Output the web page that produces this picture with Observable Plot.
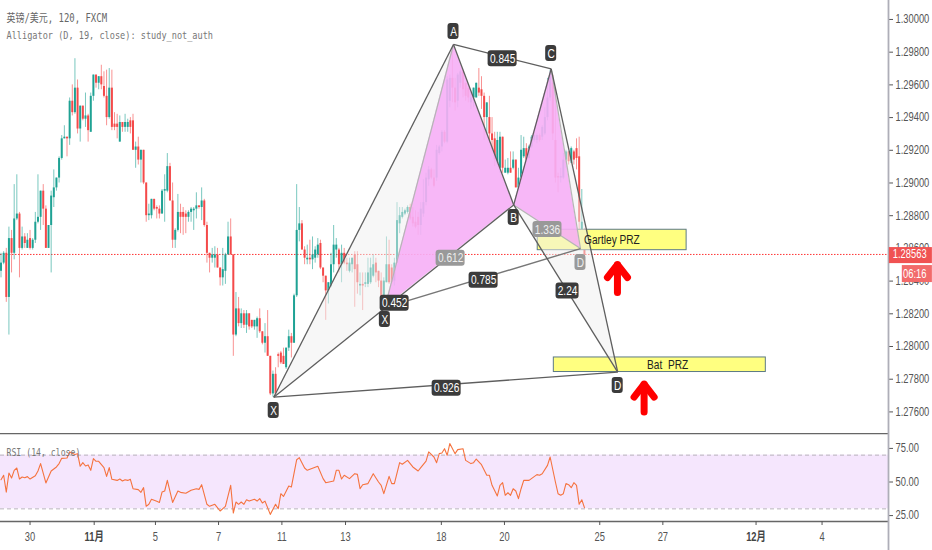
<!DOCTYPE html>
<html>
<head>
<meta charset="utf-8">
<script src="https://cdn.jsdelivr.net/npm/d3@7"></script>
<script src="https://cdn.jsdelivr.net/npm/@observablehq/plot@0.6"></script>
<style>
html,body{margin:0;padding:0;background:#fff;overflow:hidden}
svg{display:block;background:#fff}
</style>
</head>
<body>
<div id="chart"></div>
<script>
// 120-minute candles, quoted in pips: [open, close, high, low]
const candles = [
[12846,12851,12857,12842],[12851,12857,12858,12850],[12857,12830,12860,12827],[12830,12866,12873,12807],
[12866,12857,12871,12845],[12857,12878,12899,12853],[12878,12881,12905,12877],[12881,12860,12882,12842],
[12860,12867,12873,12859],[12867,12863,12869,12860],[12860,12865,12869,12860],[12866,12860,12871,12859],
[12860,12865,12866,12859],[12865,12876,12882,12863],[12876,12879,12905,12875],[12879,12895,12895,12871],
[12895,12884,12899,12874],[12884,12860,12886,12860],[12860,12874,12874,12860],[12874,12892,12895,12845],
[12891,12897,12908,12885],[12897,12903,12903,12895],[12903,12915,12916,12900],[12915,12927,12929,12914],
[12927,12928,12935,12927],[12928,12927,12928,12916],[12927,12950,12952,12923],[12950,12943,12960,12941],
[12943,12958,12976,12942],[12958,12933,12963,12930],[12933,12947,12947,12925],[12947,12939,12947,12938],
[12939,12941,12955,12934],[12941,12932,12942,12925],[12931,12953,12955,12931],[12953,12966,12966,12950],
[12966,12961,12966,12958],[12961,12965,12965,12957],[12965,12960,12972,12957],[12959,12953,12968,12952],
[12953,12940,12969,12935],[12940,12958,12970,12939],[12958,12934,12969,12932],[12936,12934,12943,12932],
[12936,12934,12942,12927],[12925,12937,12941,12925],[12937,12934,12937,12931],[12934,12937,12942,12931],
[12934,12937,12939,12931],[12938,12934,12940,12930],[12938,12920,12942,12920],[12920,12922,12925,12909],
[12922,12914,12928,12911],[12914,12920,12920,12900],[12920,12900,12920,12899],[12900,12880,12900,12876],
[12880,12881,12887,12877],[12880,12890,12890,12878],[12890,12884,12890,12883],[12885,12884,12886,12878],
[12884,12881,12886,12878],[12881,12895,12896,12881],[12895,12896,12905,12876],[12895,12910,12918,12894],
[12910,12889,12912,12889],[12889,12865,12900,12860],[12865,12871,12872,12860],[12871,12882,12893,12870],
[12882,12879,12887,12869],[12882,12879,12885,12868],[12881,12879,12883,12869],[12879,12882,12883,12876],
[12882,12884,12885,12876],[12883,12884,12885,12871],[12884,12886,12894,12878],[12886,12885,12886,12884],
[12885,12889,12897,12877],[12889,12874,12890,12873],[12874,12857,12876,12851],[12857,12854,12857,12845],
[12854,12856,12860,12851],[12854,12856,12861,12848],[12856,12848,12860,12848],[12848,12842,12848,12837],
[12842,12847,12860,12837],[12846,12856,12857,12838],[12856,12867,12876,12856],[12867,12856,12878,12856],
[12856,12807,12856,12794],[12807,12823,12833,12806],[12823,12814,12830,12812],[12814,12820,12823,12811],
[12820,12813,12822,12811],[12813,12820,12822,12808],[12820,12812,12820,12810],[12816,12812,12816,12811],
[12812,12816,12816,12810],[12812,12817,12818,12805],[12817,12809,12823,12808],[12809,12802,12809,12801],
[12802,12806,12814,12796],[12806,12794,12822,12794],[12794,12771,12794,12770],[12771,12783,12785,12769],
[12783,12771,12787,12770],[12795,12794,12796,12787],[12796,12790,12797,12789],[12794,12789,12799,12789],
[12787,12799,12799,12786],[12799,12806,12810,12797],[12806,12802,12808,12793],[12802,12831,12832,12802],
[12831,12871,12899,12830],[12871,12875,12885,12864],[12875,12859,12877,12859],[12859,12854,12861,12850],
[12853,12854,12862,12850],[12854,12853,12865,12850],[12853,12856,12867,12847],[12854,12859,12861,12851],
[12856,12862,12866,12854],[12863,12848,12865,12847],[12848,12843,12848,12839],[12843,12834,12843,12816],
[12834,12839,12839,12826],[12837,12850,12857,12836],[12850,12862,12874,12845],[12859,12862,12866,12854],
[12859,12850,12860,12845],[12850,12857,12862,12839],[12857,12851,12860,12850],[12851,12850,12854,12846],
[12846,12851,12854,12845],[12850,12854,12854,12845],[12856,12847,12858,12824],[12850,12839,12858,12832],
[12837,12838,12845,12831],[12838,12837,12845,12822],[12838,12839,12845,12836],[12838,12845,12854,12836],
[12839,12848,12854,12838],[12843,12850,12856,12842],[12851,12845,12854,12839],[12846,12840,12846,12836],
[12840,12830,12845,12827],[12830,12840,12842,12829],[12839,12850,12867,12839],[12850,12839,12865,12838],
[12848,12839,12850,12838],[12840,12851,12854,12837],[12851,12877,12888,12851],[12875,12880,12885,12869],
[12879,12882,12885,12878],[12881,12883,12884,12880],[12882,12885,12886,12881],[12885,12878,12887,12877],
[12879,12875,12885,12873],[12876,12873,12883,12872],[12879,12874,12882,12868],[12874,12884,12888,12868],
[12881,12888,12902,12879],[12888,12903,12906,12886],[12902,12908,12910,12898],[12908,12903,12909,12902],
[12903,12898,12908,12897],[12903,12920,12923,12901],[12918,12922,12923,12917],[12922,12931,12932,12919],
[12931,12925,12932,12924],[12925,12963,12965,12924],[12950,12964,12966,12946],[12964,12958,12981,12949],
[12958,12949,12964,12944],[12950,12966,12967,12946],[12961,12968,12969,12958],[12968,12957,12969,12952],
[12961,12953,12961,12950],[12958,12952,12958,12949],[12949,12952,12955,12945],[12952,12958,12958,12946],
[12952,12961,12961,12952],[12958,12955,12970,12953],[12957,12953,12965,12945],[12953,12940,12955,12926],
[12940,12949,12949,12930],[12940,12930,12953,12924],[12930,12926,12940,12920],[12927,12914,12931,12910],
[12912,12926,12931,12911],[12909,12928,12931,12906],[12928,12909,12928,12906],[12906,12909,12914,12906],
[12906,12909,12915,12905],[12909,12906,12919,12906],[12909,12914,12919,12908],[12914,12897,12914,12897],
[12897,12903,12909,12897],[12903,12920,12929,12903],[12916,12921,12928,12915],[12921,12914,12924,12913],
[12915,12922,12923,12914],[12922,12928,12929,12921],[12926,12929,12930,12925],[12926,12929,12930,12924],
[12929,12926,12930,12925],[12928,12934,12935,12926],[12930,12940,12946,12929],[12940,12952,12964,12938],
[12952,12967,12969,12950],[12961,12930,12966,12926],[12926,12903,12958,12900],[12904,12903,12906,12894],
[12903,12904,12909,12900],[12903,12914,12918,12902],[12914,12919,12920,12909],[12919,12913,12919,12911],
[12912,12921,12922,12912],[12919,12914,12920,12911],[12921,12915,12927,12908],[12916,12876,12928,12868],
[12865,12876,12896,12860],[12870,12856,12872,12854]
];

// RSI(14) as read at the line's visible vertices: [bar, value]
const rsiPoints = [
[0,51.7],[1,55],[2,42.5],[3,56.7],[4,53],[5,58.7],[6,60.4],[7,52.2],[8,53.7],[9,53.2],[10,54],[11,52.2],[13,54.7],[14,58.2],[15,63.7],[17,49.3],[19,58.2],[21,61.2],[22,63.7],[23,67.6],[25,67.9],[26,72.4],[28,70.4],[29,71.1],[30,61.7],[31,64.4],[32,61.9],[33,62.7],[34,58.7],[35,67.4],[36,65.4],[37,65.4],[39,60.7],[40,54.2],[41,60.7],[42,52],[44,51.2],[45,52.2],[46,50.7],[47,51.7],[48,51.2],[49,52],[50,45],[52,44.3],[53,42.3],[54,45.8],[55,31.9],[56,33.4],[57,37.1],[59,35.6],[60,34.8],[61,42.5],[62,43.3],[63,51.2],[65,34.8],[67,43.3],[68,42.3],[70,41.6],[72,43.8],[74,45],[75,44.5],[76,48],[78,33.4],[79,31.9],[81,33.4],[83,28.4],[85,31.9],[87,47.5],[88,26.9],[89,35.1],[90,33.4],[91,35.1],[92,33.4],[93,36.8],[94,35.8],[96,37.1],[97,35.8],[98,37.6],[99,34.4],[100,35.8],[102,25.9],[104,33.4],[105,30.1],[106,41.3],[107,39.3],[109,47],[110,46.3],[112,66.6],[113,68.1],[115,60.4],[116,58.7],[120,61.7],[122,52.5],[123,49.5],[126,50.7],[127,58.7],[128,58.7],[129,52.2],[130,55],[132,52.5],[134,56.2],[135,55.7],[136,45],[137,48],[139,48.8],[141,56.2],[143,50],[144,47.5],[145,41.3],[147,54.2],[148,48.8],[149,48.8],[151,64.4],[152,63.2],[154,66.1],[156,61.2],[158,58.2],[159,60.7],[161,65.6],[162,72.4],[164,68.6],[165,64.4],[166,71.1],[167,71.6],[168,74.8],[169,69.9],[170,78.6],[172,71.1],[173,74.1],[175,74.8],[176,66.1],[178,63.7],[179,64.4],[180,67.1],[182,62.9],[184,55],[185,55],[186,47.5],[188,39.6],[189,47.5],[190,49.5],[191,40.1],[192,42],[193,40.1],[194,45],[195,43.3],[196,37.6],[197,45],[198,51.2],[200,51.2],[203,55.5],[204,55],[205,56.2],[207,62.4],[208,68.6],[210,50],[211,41.3],[212,40.1],[213,41.3],[214,48.8],[215,48],[216,45.8],[217,49.5],[218,47.5],[219,33.4],[220,36.8],[221,30.9]
];

// Time axis
const dayTicks = [11,58.5,82.4,106.4,130.5,166.8,190.7,226.8,250.7,311];
const dayLabels = ["30","5","7","11","13","18","20","25","27","4"];
const monthTicks = [35.3,286];
const monthLabels = ["11月","12月"];

// Price axis
const priceTicks = [1.30,1.298,1.296,1.294,1.292,1.29,1.288,1.286,1.284,1.282,1.28,1.278,1.276];
const rsiTicks = [75,50,25];
const lastPrice = 1.28563;
const countdown = "06:16";

// Harmonic patterns, pivots as [bar, price]
const bat = {X:[103.3,1.2769],A:[171.4,1.29847],B:[194.2,1.28866],C:[208.4,1.29698],D:[233.6,1.27843]};
const gartley = {X:[145.4,1.28238],A:[171.4,1.29847],B:[194.2,1.28866],C:[208.4,1.29698],D:[219.5,1.28599]};

// Labels: [text, bar, price]
const darkTags = [["A",171.4,1.29926],["C",208.4,1.29792],["B",194.2,1.28789],["X",103.3,1.27608],["D",233.6,1.27761],["X",145.4,1.28165],
  ["0.845",190,1.2976],["0.926",168.8,1.27745],["0.785",182.8,1.28405],["2.24",214.6,1.2834],["0.452",149.1,1.28265]];
const fadedTags = [["1.336",207,1.28715],["D",219.5,1.28514],["0.612",170.3,1.2854]];

// Potential reversal zones: [text, bar1, bar2, price1, price2, label bar, label price]
const zones = [["Gartley PRZ",203.3,259.7,1.28714,1.28589,231.4,1.28654],["Bat  PRZ",209.4,289.7,1.27933,1.27844,252.5,1.27885]];

// Up arrows: [bar, price] for wing, tip, wing, and shaft foot
const arrows = [
  [[229.7,1.28422],[233.5,1.28501],[237.3,1.28422]],[[233.5,1.28501],[233.5,1.2833]],
  [[239.8,1.27691],[243.6,1.2777],[247.4,1.27691]],[[243.6,1.2777],[243.6,1.27599]]
];

const xDomain = [-0.19,336.17];
const xRight = 352.8;
const up = "#1fa294", down = "#f44a4a";
const rows = candles.map((c,i)=>({i,o:c[0]/1e4,c:c[1]/1e4,h:c[2]/1e4,l:c[3]/1e4}));
const ups = rows.filter(d=>d.c>=d.o), downs = rows.filter(d=>d.c<d.o);

const segs = (p,names)=>names.map(([a,b])=>({x1:p[a][0],y1:p[a][1],x2:p[b][0],y2:p[b][1]}));
const tri = (p,a,b,c,opts)=>Plot.area([
  {x1:p[a][0],y1:p[a][1],x2:p[a][0],y2:p[a][1]},
  {x1:p[b][0],y1:p[b][1],x2:p[c][0],y2:p[c][1]}],
  {x1:"x1",y1:"y1",x2:"x2",y2:"y2",...opts});
const link = (data,opts)=>Plot.link(data,{x1:"x1",y1:"y1",x2:"x2",y2:"y2",...opts});
const MONO = "'DejaVu Sans Mono','Noto Sans CJK SC',monospace";
const SANS = "'Liberation Sans','Noto Sans CJK SC',sans-serif";

// half-width (in bars) and half-height (in price) of a label plate
const plateW = d=>Math.max(11,6*d[0].length-1)/2/2.64;
const plateH = 0.00049;
const tagMarks = (data,bg,fg)=>[
  Plot.rect(data,{x1:d=>d[1]-plateW(d),x2:d=>d[1]+plateW(d),y1:d=>d[2]-plateH,y2:d=>d[2]+plateH,fill:bg,rx:3}),
  Plot.text(data,{x:d=>d[1],y:d=>d[2],text:d=>d[0],fill:fg,fontFamily:SANS,fontSize:13})
];

const main = Plot.plot({
  width:932,height:433,marginLeft:0,marginRight:44,marginTop:0,marginBottom:0,
  x:{domain:xDomain,axis:null},
  y:{domain:[1.27468,1.30116],axis:null},
  marks:[
    Plot.ruleY([lastPrice],{stroke:"#f33",strokeWidth:1,strokeDasharray:"1.5 1.5"}),
    Plot.ruleX(ups,{x:"i",y1:"l",y2:"h",stroke:up,strokeWidth:1,strokeOpacity:.6}),
    Plot.ruleX(downs,{x:"i",y1:"l",y2:"h",stroke:down,strokeWidth:1,strokeOpacity:.6}),
    Plot.ruleX(ups,{x:"i",y1:"o",y2:"c",stroke:up,strokeWidth:2}),
    Plot.ruleX(downs,{x:"i",y1:"o",y2:"c",stroke:down,strokeWidth:2}),
    Plot.rect(zones,{x1:d=>d[1],x2:d=>d[2],y1:d=>d[3],y2:d=>d[4],fill:"#ffff80",stroke:"#5d7a85",strokeWidth:1}),
    tri(bat,"X","A","B",{fill:"#f0f0f0",fillOpacity:.5}),
    tri(bat,"D","B","C",{fill:"#f0f0f0",fillOpacity:.5}),
    tri(gartley,"X","A","B",{fill:"#f6a8f6",fillOpacity:.82}),
    tri(gartley,"D","B","C",{fill:"#f6a8f6",fillOpacity:.82}),
    link(segs(gartley,[["X","A"],["C","D"],["B","D"]]),{stroke:"#b5b5b5",strokeWidth:1.2}),
    link(segs(gartley,[["X","D"]]),{stroke:"#777",strokeWidth:1.4}),
    link(segs(bat,[["X","A"],["A","B"],["B","C"],["C","D"],["X","B"],["B","D"],["X","D"],["A","C"]]),{stroke:"#5e5e5e",strokeWidth:1.3}),
    Plot.text(zones,{x:d=>d[5],y:d=>d[6],text:d=>d[0],fill:"#222",fontFamily:SANS,fontSize:13}),
    ...tagMarks(darkTags,"#3b3b3b","#fff"),
    ...tagMarks(fadedTags,"#999","#eee"),
    ...arrows.map(a=>Plot.line(a,{x:d=>d[0],y:d=>d[1],stroke:"#f00",strokeWidth:7,strokeLinecap:"round",strokeLinejoin:"miter"})),
    Plot.axisY(priceTicks,{anchor:"right",tickSize:4,tickPadding:3,tickFormat:d=>d.toFixed(5),label:null,stroke:"#555",color:"#555",fontFamily:SANS,fontSize:12}),
    Plot.ruleX([xDomain[1]],{stroke:"#aeaeb8",strokeWidth:1.8}),
    Plot.rect([[336.5,xRight,1.28605,1.28507]],{x1:d=>d[0],x2:d=>d[1],y1:d=>d[2],y2:d=>d[3],fill:"#f05252"}),
    Plot.rect([[341.4,xRight,1.28495,1.28391]],{x1:d=>d[0],x2:d=>d[1],y1:d=>d[2],y2:d=>d[3],fill:"#f26a6a"}),
    Plot.text([lastPrice],{x:()=>344.2,y:d=>d,text:d=>d.toFixed(5),fill:"#fff",fontFamily:SANS,fontSize:12}),
    Plot.text([countdown],{x:()=>346.1,y:()=>1.28443,text:d=>d,fill:"#fff",fontFamily:SANS,fontSize:12}),
    Plot.text(["英镑/美元, 120, FXCM"],{frameAnchor:"top-left",dx:6,dy:13,text:d=>d,fill:"#666",fontFamily:MONO,fontSize:11.5}),
    Plot.text(["Alligator (D, 19, close): study_not_auth"],{frameAnchor:"top-left",dx:6,dy:31,text:d=>d,fill:"#777",fontFamily:MONO,fontSize:11})
  ]
});

const rsiTop = 86.1, rsiBottom = 20.6, svgFoot = -1;
const lower = Plot.plot({
  width:932,height:117,marginLeft:0,marginRight:44,marginTop:0,marginBottom:29,
  x:{domain:xDomain,axis:null},
  y:{domain:[rsiBottom,rsiTop],axis:null},
  marks:[
    Plot.rect([[xDomain[0],xDomain[1],30,70]],{x1:d=>d[0],x2:d=>d[1],y1:d=>d[2],y2:d=>d[3],fill:"#f5e6fd"}),
    Plot.ruleY([30,70],{stroke:"#b9b3bd",strokeWidth:1,strokeDasharray:"4 3"}),
    Plot.line(rsiPoints,{x:d=>d[0],y:d=>d[1],stroke:"#f5733f",strokeWidth:1.1}),
    Plot.ruleY([rsiTop,rsiBottom],{stroke:"#666",strokeWidth:1.4}),
    Plot.axisY(rsiTicks,{anchor:"right",tickSize:4,tickPadding:3,tickFormat:d=>d.toFixed(2),label:null,stroke:"#555",color:"#555",fontFamily:SANS,fontSize:12}),
    Plot.axisX(dayTicks,{anchor:"bottom",tickSize:4,tickPadding:7,tickFormat:(d,i)=>dayLabels[i],label:null,stroke:"#555",color:"#555",fontFamily:SANS,fontSize:12}),
    Plot.axisX(monthTicks,{anchor:"bottom",tickSize:4,tickPadding:7,tickFormat:(d,i)=>monthLabels[i],label:null,stroke:"#555",color:"#444",fontFamily:SANS,fontSize:12,fontWeight:600}),
    Plot.ruleX([xDomain[1]],{y1:rsiTop,y2:svgFoot,stroke:"#aeaeb8",strokeWidth:1.8}),
    Plot.text(["RSI (14, close)"],{frameAnchor:"top-left",dx:6,dy:15,text:d=>d,fill:"#777",fontFamily:MONO,fontSize:10.5})
  ]
});

const host = document.getElementById("chart");
host.append(main,lower);
// The reference picture is horizontally condensed: narrow every label the same way, around its anchor.
for (const t of host.querySelectorAll("text")) {
  const tr = t.getAttribute("transform") || "";
  t.setAttribute("transform",(tr+" scale(0.78,1)").trim());
}
</script>
</body>
</html>
